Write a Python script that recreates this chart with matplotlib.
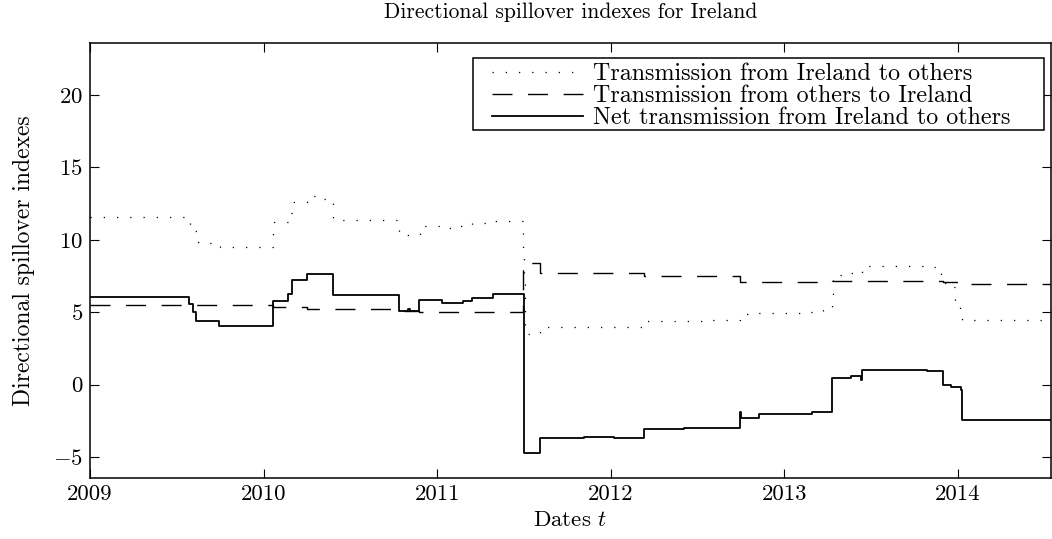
import matplotlib
matplotlib.use("Agg")
import matplotlib.pyplot as plt
from matplotlib.patches import Rectangle

# rolling-window directional spillovers
# (decimal years, each value holds until the next date)
from_dates = [2009.00, 2009.560, 2009.575, 2009.595, 2009.614, 2009.650, 2009.749,
              2010.052, 2010.060, 2010.142, 2010.160, 2010.171, 2010.248, 2010.258,
              2010.334, 2010.400, 2010.782, 2010.900, 2011.026, 2011.112, 2011.151,
              2011.199, 2011.323, 2011.496, 2011.499, 2011.502, 2011.505, 2011.594,
              2012.189, 2012.550, 2012.747, 2012.850, 2013.100, 2013.220, 2013.274,
              2013.278, 2013.385, 2013.440, 2013.450, 2013.820, 2013.900, 2013.950,
              2013.985, 2014.010, 2014.025, 2014.536]
from_vals = [11.58, 11.30, 11.05, 10.58, 9.88, 9.77, 9.53,
             10.58, 11.21, 11.44, 11.86, 12.60, 12.67, 13.02,
             12.84, 11.40, 10.35, 10.98, 10.81, 10.93, 11.05,
             11.16, 11.33, 9.40, 8.40, 7.50, 3.48, 3.99,
             4.37, 4.45, 4.85, 4.95, 5.05, 5.18, 6.20,
             7.55, 7.72, 7.62, 8.18, 8.14, 7.00, 6.75,
             5.83, 4.80, 4.45, 4.45]

to_dates = [2009.00, 2010.052, 2010.248, 2010.782, 2010.897, 2011.496, 2011.594,
            2012.189, 2012.747, 2013.274, 2013.912, 2014.025, 2014.536]
to_vals = [5.47, 5.35, 5.23, 5.12, 5.05, 8.37, 7.74,
           7.51, 7.09, 7.15, 7.08, 6.94, 6.94]

net_dates = [2009.00, 2009.572, 2009.591, 2009.611, 2009.743, 2010.052, 2010.142,
             2010.162, 2010.248, 2010.398, 2010.782, 2010.834, 2010.846, 2010.897,
             2011.026, 2011.151, 2011.199, 2011.323, 2011.500, 2011.592, 2011.844,
             2012.020, 2012.189, 2012.420, 2012.747, 2012.752, 2012.853, 2013.161,
             2013.274, 2013.385, 2013.440, 2013.450, 2013.820, 2013.911, 2013.960,
             2014.015, 2014.025, 2014.536]
net_vals = [6.08, 5.58, 5.00, 4.40, 4.07, 5.81, 6.28,
            7.26, 7.67, 6.16, 5.07, 5.23, 5.07, 5.86,
            5.67, 5.81, 5.98, 6.28, -4.73, -3.67, -3.60,
            -3.67, -3.09, -3.00, -1.86, -2.28, -2.00, -1.91,
            0.47, 0.63, 0.35, 1.00, 0.92, -0.05, -0.16,
            -0.35, -2.42, -2.42]

year_ticks = [2009, 2010, 2011, 2012, 2013, 2014]
y_ticks = [-5, 0, 5, 10, 15, 20]

plt.rcParams['font.family'] = 'serif'
plt.rcParams['font.serif'] = ['cmr10']
plt.rcParams['mathtext.fontset'] = 'cm'
plt.rcParams['axes.formatter.use_mathtext'] = True
plt.rcParams['axes.unicode_minus'] = True

fig = plt.figure(figsize=(10.52, 5.39), dpi=100)
ax = fig.add_axes([90 / 1052, 61 / 539, 961 / 1052, 435 / 539])

ax.plot(from_dates, from_vals, drawstyle='steps-post', color='black',
        lw=0.9, linestyle=(0, (1, 9.6)), label='Transmission from Ireland to others')
ax.plot(to_dates, to_vals, drawstyle='steps-post', color='black',
        lw=1.0, linestyle=(0, (14.4, 11.2)), label='Transmission from others to Ireland')
ax.plot(net_dates, net_vals, drawstyle='steps-post', color='black',
        lw=1.3, label='Net transmission from Ireland to others')

ax.set_xlim(2009, 2014.536)
ax.set_ylim(-6.45, 23.6)
ax.set_xticks(year_ticks)
ax.set_xticklabels([str(y) for y in year_ticks])
ax.set_yticks(y_ticks)
ax.set_yticklabels(['$%d$' % v for v in y_ticks])

ax.tick_params(direction='in', length=6.5, width=0.8, top=True, right=True,
               labelsize=16.4, pad=5)
for s in ax.spines.values():
    s.set_linewidth(1.1)

ax.set_xlabel('Dates $t$', fontsize=16.5, labelpad=4)
ax.set_ylabel('Directional spillover indexes', fontsize=17, labelpad=13)
ax.set_title('Directional spillover indexes for Ireland', fontsize=15.5, pad=18)

# legend box is wider than its content in the original, so draw the frame separately
ax.add_patch(Rectangle((0.3985, 0.800), 0.5942, 0.1655, transform=ax.transAxes,
                       facecolor='white', edgecolor='black', lw=1.1, zorder=4))
leg = ax.legend(loc='upper left', bbox_to_anchor=(0.4183, 0.954), borderaxespad=0,
                fontsize=17.3, frameon=False, handlelength=3.8, handletextpad=0.42,
                labelspacing=0.0, borderpad=0)
leg.set_zorder(5)

fig.savefig('out.png', dpi=100)
